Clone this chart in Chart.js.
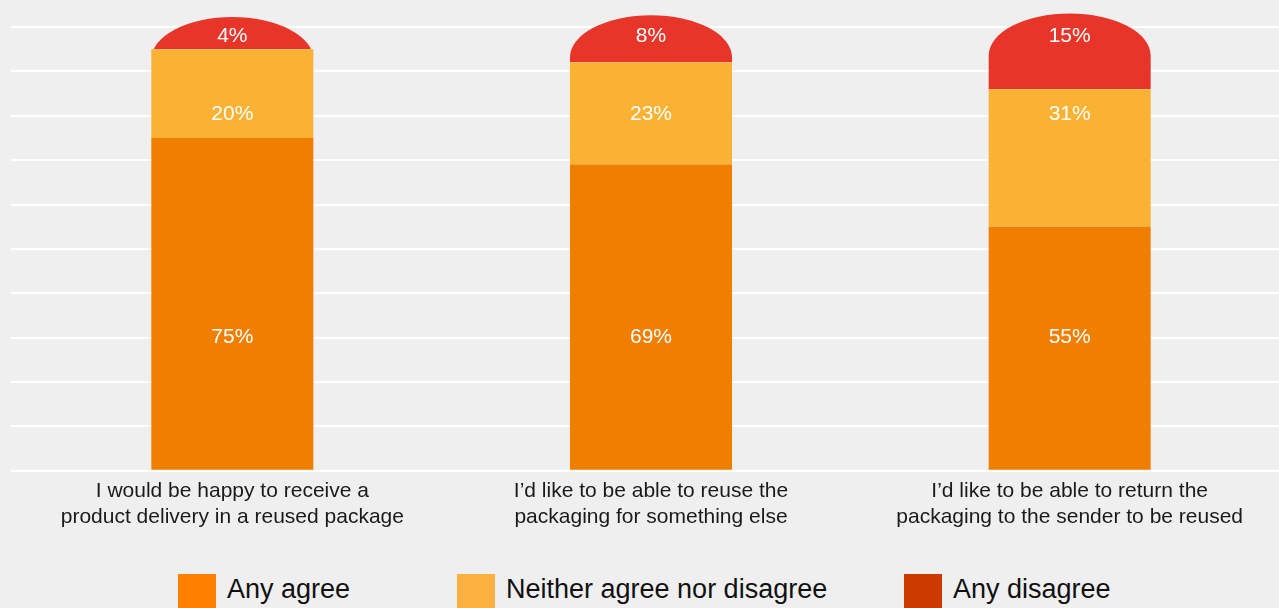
<!DOCTYPE html>
<html>
<head>
<meta charset="utf-8">
<script src="https://cdn.jsdelivr.net/npm/chart.js@4"></script>
<style>
  html, body { margin:0; padding:0; background:#efefef; }
  #wrap { position:relative; width:1279px; height:608px; overflow:hidden; font-family:"Liberation Sans", Arial, sans-serif; }
  #chartBox { position:absolute; left:0; top:0; width:1279px; height:560px; }
  .lg { position:absolute; top:574px; height:34px; display:flex; align-items:flex-start; }
  .lg span.box { width:38px; height:34px; display:inline-block; }
  .lg span.txt { font-size:27px; line-height:27px; color:#111; margin-left:11px; margin-top:2px; }
</style>
</head>
<body>
<div id="wrap">
  <div id="chartBox"><canvas id="c"></canvas></div>
</div>
<script>
// Stacked survey bars about reused packaging

const categories = [
  ['I would be happy to receive a', 'product delivery in a reused package'],
  ['I\u2019d like to be able to reuse the', 'packaging for something else'],
  ['I\u2019d like to be able to return the', 'packaging to the sender to be reused']
];
const seriesNames = ['Any agree', 'Neither agree nor disagree', 'Any disagree'];
const anyAgree = [75, 69, 55];
const neither = [20, 23, 31];
const anyDisagree = [4, 8, 15];
const yTicks = [0, 10, 20, 30, 40, 50, 60, 70, 80, 90, 100];

const barColors = ['#f07f00', '#f9b233', '#e8352a'];
const legendColors = ['#ff7f00', '#fbb040', '#cc3a00'];
// value at which each series' percentage label sits
const labelAt = [30, 80.4, 98];

// legend, built by hand so that the swatches can use their own colours
const legendLeft = [178, 457, 904];
seriesNames.forEach((name, i) => {
    const it = document.createElement('div');
    it.className = 'lg';
    it.style.left = legendLeft[i] + 'px';
    it.innerHTML = '<span class="box" style="background:' + legendColors[i] + '"></span><span class="txt">' + name + '</span>';
    document.getElementById('wrap').appendChild(it);
});

// top segment is drawn with a rounded dome instead of a flat rectangle
const domePlugin = {
    id: 'dome',
    beforeDatasetDraw(chart, args) {
        if (args.index !== 2) return;
        const ctx = chart.ctx;
        const meta = args.meta;
        ctx.save();
        ctx.fillStyle = barColors[2];
        meta.data.forEach(el => {
            const p = el.getProps(['x', 'y', 'base', 'width'], true);
            const left = p.x - p.width / 2, right = p.x + p.width / 2;
            const ry = 42;
            const top = 0.4 * p.y + 4.5;
            const cy = top + ry;
            ctx.save();
            ctx.beginPath();
            ctx.rect(left - 1, 0, p.width + 2, p.base);
            ctx.clip();
            ctx.beginPath();
            ctx.moveTo(left, p.base);
            ctx.lineTo(left, cy);
            ctx.ellipse(p.x, cy, p.width / 2, ry, 0, Math.PI, 2 * Math.PI);
            ctx.lineTo(right, p.base);
            ctx.closePath();
            ctx.fill();
            ctx.restore();
        });
        ctx.restore();
        return false;
    },
    afterDatasetsDraw(chart) {
        const ctx = chart.ctx;
        const y = chart.scales.y;
        ctx.save();
        ctx.fillStyle = '#ffffff';
        ctx.font = '21px "Liberation Sans", Arial, sans-serif';
        ctx.textAlign = 'center';
        ctx.textBaseline = 'middle';
        chart.data.datasets.forEach((ds, i) => {
            chart.getDatasetMeta(i).data.forEach((el, j) => {
                ctx.fillText(ds.data[j] + '%', el.x, y.getPixelForValue(labelAt[i]));
            });
        });
        ctx.restore();
    }
};

new Chart(document.getElementById('c'), {
    type: 'bar',
    data: {
        labels: categories,
        datasets: [
            { label: seriesNames[0], data: anyAgree, backgroundColor: barColors[0] },
            { label: seriesNames[1], data: neither, backgroundColor: barColors[1] },
            { label: seriesNames[2], data: anyDisagree, backgroundColor: barColors[2] }
        ]
    },
    options: {
        responsive: true, maintainAspectRatio: false, animation: false,
        layout: { padding: { top: 27, left: 11, right: 0, bottom: 22 } },
        datasets: { bar: { categoryPercentage: 1, barPercentage: 0.387, borderWidth: 0 } },
        plugins: { legend: { display: false }, tooltip: { enabled: false } },
        scales: {
            x: {
                stacked: true,
                grid: { display: false, drawTicks: false },
                border: { display: false },
                ticks: {
                    color: '#1a1a1a', padding: 8, autoSkip: false, maxRotation: 0,
                    font: { family: '"Liberation Sans", Arial, sans-serif', size: 21, lineHeight: 1.22 }
                }
            },
            y: {
                stacked: true, min: 0, max: 100,
                afterBuildTicks: s => { s.ticks = yTicks.map(v => ({ value: v })); },
                grid: { color: '#ffffff', lineWidth: 2, tickLength: 12, drawTicks: true, tickColor: '#ffffff' },
                border: { display: false },
                ticks: { display: false }
            }
        }
    },
    plugins: [domePlugin]
});
</script>
</body>
</html>
